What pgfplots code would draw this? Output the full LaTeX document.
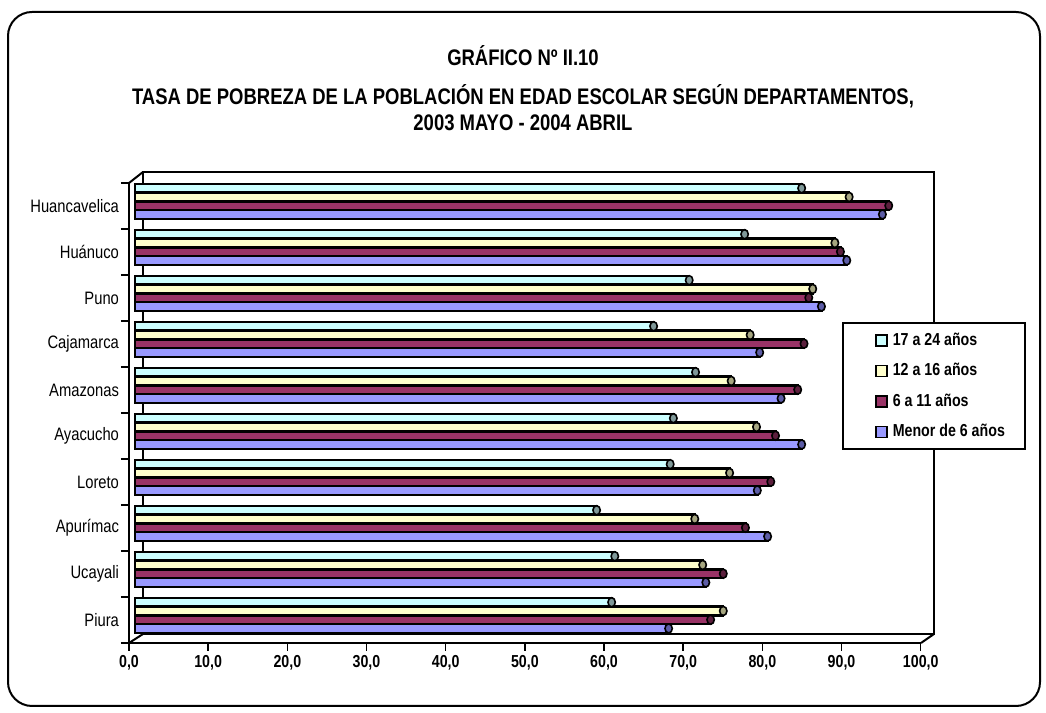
\documentclass[border=0pt]{standalone}
\usepackage{fontspec}
\IfFontExistsTF{Liberation Sans Narrow}
  {\setmainfont{Liberation Sans Narrow}}
  {\setmainfont{Liberation Sans}[FakeStretch=0.82]}
\usepackage{pgfplots}
\pgfplotsset{compat=1.18}
\usetikzlibrary{shapes.geometric}
\definecolor{cA}{HTML}{CCFFFF}
\definecolor{cB}{HTML}{FFFFCC}
\definecolor{cC}{HTML}{993366}
\definecolor{cD}{HTML}{9999FF}
\definecolor{kA}{HTML}{809999}
\definecolor{kB}{HTML}{A6A680}
\definecolor{kC}{HTML}{5C1F3D}
\definecolor{kD}{HTML}{5C5CA6}
\pgfplotsset{
  capstyle/.style={every node near coord/.append style={ellipse, draw=black, line width=1.2pt, fill=#1, minimum width=5.5pt, minimum height=6.8pt, inner sep=0pt, anchor=center, text=black}},
}
\begin{document}
\begin{tikzpicture}
\begin{scope}[x=0.75pt,y=0.75pt]
\useasboundingbox (0,0) rectangle (1046,713);
\draw[line width=1.5pt, rounded corners=18pt] (8,7) rectangle (1040,701);
\begin{scope}[font=\bfseries\fontsize{16.9}{19}\selectfont]
\node[anchor=base] at (523,647) {GRÁFICO Nº II.10};
\node[anchor=base] at (523,608) {TASA DE POBREZA DE LA POBLACIÓN EN EDAD ESCOLAR SEGÚN DEPARTAMENTOS,};
\node[anchor=base] at (523,582) {2003 MAYO - 2004 ABRIL};
\end{scope}
% back wall and depth edges
\draw[line width=1.5pt] (143,79) rectangle (934,541);
\draw[line width=1.5pt] (129,70) -- (143,79) (921,70) -- (934,79) (129,530) -- (143,541);
\end{scope}
% front axis: lines, ticks and labels
\begin{axis}[at={(96.75pt,52.5pt)}, anchor=south west, scale only axis,
  width=593.8pt, height=345pt,
  xmin=0, xmax=100, ymin=-0.5, ymax=9.5,
  axis lines*=left, axis line style={line width=1.5pt},
  tick align=outside, major tick length=6pt,
  tick style={line width=1.1pt, black},
  xtick={0,10,...,100},
  xticklabel={\pgfmathprintnumber[fixed,fixed zerofill,precision=1,use comma,assume math mode=true]{\tick}},
  xticklabel style={font=\bfseries\fontsize{13}{15}\selectfont},
  ytick={-0.5,0.5,...,9.5},
  y tick label as interval,
  yticklabels={Piura,Ucayali,Apurímac,Loreto,Ayacucho,Amazonas,Cajamarca,Puno,Huánuco,Huancavelica},
  yticklabel style={font=\fontsize{13.5}{15}\selectfont, xshift=2pt},
]
\addplot[draw=none] coordinates {(0,0)};
\end{axis}
% bars, at mid depth
\begin{axis}[at={(101.25pt,56pt)}, anchor=south west, scale only axis,
  width=593.8pt, height=345pt,
  xmin=0, xmax=100, ymin=-0.5, ymax=9.5,
  hide axis, clip=false,
  xbar, bar width=0.19,
  reverse legend, legend cell align=left,
  legend style={at={(0.893,0.6876)}, anchor=north west, draw=black, line width=1.5pt,
    font=\bfseries\fontsize{13}{15}\selectfont, inner xsep=15pt, inner ysep=7pt,
    row sep=10.9pt, column sep=3.75pt,
    nodes={inner sep=0pt, text height=9.5pt, text depth=2.5pt, anchor=west}},
  legend image code/.code={\path[draw=none,fill=none] (0pt,0pt) -- (9.75pt,0pt); \draw[#1, draw=black, line width=1.1pt] (9.75pt,-4.1pt) rectangle (18pt,4.1pt);},
]
\addplot[draw=black, line width=1.8pt, fill=cD, bar shift=-0.285, nodes near coords={}, capstyle=kD]
  coordinates {(67.4,0) (72.1,1) (79.9,2) (78.6,3) (84.2,4) (81.6,5) (78.9,6) (86.7,7) (89.9,8) (94.4,9)};
\addlegendentry{Menor de 6 años}
\addplot[draw=black, line width=1.8pt, fill=cC, bar shift=-0.095, nodes near coords={}, capstyle=kC]
  coordinates {(72.7,0) (74.3,1) (77.1,2) (80.3,3) (80.9,4) (83.7,5) (84.5,6) (85.1,7) (89.1,8) (95.2,9)};
\addlegendentry{6 a 11 años}
\addplot[draw=black, line width=1.8pt, fill=cB, bar shift=0.095, nodes near coords={}, capstyle=kB]
  coordinates {(74.3,0) (71.7,1) (70.7,2) (75.1,3) (78.5,4) (75.3,5) (77.7,6) (85.6,7) (88.4,8) (90.2,9)};
\addlegendentry{12 a 16 años}
\addplot[draw=black, line width=1.8pt, fill=cA, bar shift=0.285, nodes near coords={}, capstyle=kA]
  coordinates {(60.2,0) (60.6,1) (58.3,2) (67.6,3) (68.0,4) (70.8,5) (65.5,6) (70.0,7) (77.0,8) (84.2,9)};
\addlegendentry{17 a 24 años}
\end{axis}
\end{tikzpicture}
\end{document}
